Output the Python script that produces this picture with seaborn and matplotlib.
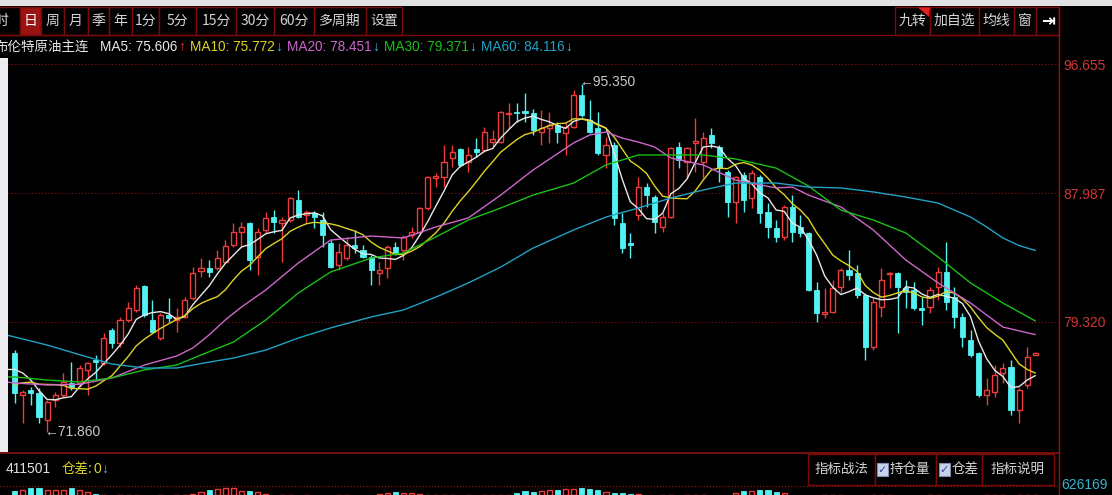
import numpy as np
import pandas as pd
import seaborn as sns
import matplotlib.pyplot as plt
from matplotlib import font_manager
from matplotlib.patches import Rectangle, Polygon

# daily candles, brent continuous (oldest first)
opens = [77.21, 74.38, 74.72, 74.52, 72.70, 74.05, 74.38, 75.19, 75.19, 76.07,
         76.74, 76.54, 78.76, 77.89, 79.44, 80.11, 81.73, 79.44, 78.22, 79.77,
         79.44, 79.64, 80.92, 82.74, 82.94, 82.94, 83.34, 84.49, 85.36, 85.97,
         83.68, 85.50, 86.37, 85.97, 86.17, 87.52, 86.51, 86.64, 86.17, 84.62,
         83.14, 83.61, 84.49, 84.15, 83.68, 82.60, 82.94, 84.35, 84.15, 85.16,
         85.36, 86.98, 89.00, 89.07, 90.35, 90.95, 90.08, 90.95, 90.89, 91.42,
         91.42, 93.31, 93.45, 93.51, 93.38, 92.10, 92.37, 92.57, 92.03, 92.44,
         94.59, 92.91, 92.37, 90.55, 91.22, 85.97, 84.62, 86.51, 88.39, 87.72,
         85.70, 86.37, 91.09, 90.08, 91.36, 90.08, 91.90, 91.09, 89.40, 87.38,
         89.20, 87.65, 89.07, 86.71, 85.63, 85.03, 87.05, 85.70, 85.30, 81.46,
         79.84, 79.97, 81.66, 82.80, 82.60, 81.12, 77.62, 80.31, 82.53, 82.60,
         81.59, 81.46, 80.24, 80.31, 81.66, 82.67, 80.98, 79.64, 78.09, 77.21,
         74.38, 74.58, 75.87, 76.27, 73.37, 75.06, 77.08]
highs = [77.41, 74.72, 74.92, 74.85, 74.05, 74.58, 75.87, 76.60, 76.40, 76.60,
         77.08, 78.56, 78.90, 79.64, 80.65, 81.79, 81.79, 80.78, 79.91, 80.92,
         80.24, 80.98, 83.00, 83.61, 83.48, 84.15, 84.82, 85.97, 86.04, 86.04,
         85.63, 86.71, 86.84, 86.37, 87.72, 88.19, 86.84, 86.78, 86.71, 84.82,
         84.62, 85.03, 85.50, 84.49, 83.81, 83.34, 84.49, 84.69, 85.16, 85.70,
         87.05, 89.13, 89.34, 91.22, 91.22, 91.02, 91.09, 91.69, 92.44, 92.23,
         93.52, 94.05, 94.05, 94.73, 93.65, 93.58, 93.45, 92.77, 92.70, 94.93,
         95.35, 94.25, 93.45, 91.76, 91.42, 86.64, 85.30, 89.07, 88.66, 87.85,
         86.64, 91.09, 91.42, 91.09, 93.04, 92.10, 92.37, 91.22, 89.54, 89.13,
         89.40, 89.54, 89.20, 87.31, 86.17, 87.18, 87.85, 86.51, 85.36, 81.99,
         81.59, 82.13, 82.94, 84.15, 83.14, 81.25, 80.92, 82.94, 82.67, 82.67,
         82.13, 81.99, 80.98, 81.66, 83.00, 84.69, 81.66, 79.91, 78.76, 77.28,
         75.53, 76.40, 76.54, 76.74, 74.85, 77.62, 77.28]
lows = [73.84, 72.50, 73.71, 72.50, 71.86, 73.57, 74.25, 74.72, 74.92, 74.38,
        75.39, 76.40, 77.55, 77.62, 79.30, 79.97, 79.64, 78.56, 78.09, 79.30,
        78.63, 79.57, 80.78, 82.33, 82.33, 82.80, 83.27, 84.35, 84.35, 82.80,
        82.47, 85.30, 85.30, 83.34, 86.04, 86.31, 85.97, 85.63, 84.35, 82.94,
        82.80, 83.48, 83.95, 83.61, 81.79, 81.79, 82.26, 83.81, 83.48, 84.96,
        85.30, 86.84, 88.39, 88.39, 89.74, 89.74, 89.40, 90.42, 90.75, 91.09,
        91.36, 92.37, 92.77, 92.77, 91.90, 91.22, 91.36, 91.36, 90.55, 92.37,
        93.11, 92.03, 90.55, 89.67, 85.83, 83.95, 83.61, 86.17, 87.05, 85.30,
        85.36, 86.31, 89.67, 89.00, 89.40, 89.00, 91.02, 88.73, 86.37, 85.97,
        86.71, 86.98, 85.97, 84.96, 84.69, 84.82, 84.69, 85.03, 81.40, 79.30,
        79.57, 79.91, 81.25, 82.13, 80.92, 76.74, 77.41, 79.64, 81.59, 78.56,
        80.24, 80.11, 79.10, 79.91, 80.78, 80.11, 78.90, 77.62, 76.94, 74.25,
        73.71, 74.25, 75.19, 73.04, 72.50, 74.85, 77.08]
closes = [74.52, 74.58, 74.52, 72.90, 73.91, 74.38, 75.26, 74.92, 76.20, 76.54,
          76.60, 78.22, 77.89, 79.44, 80.24, 81.59, 79.77, 78.63, 79.77, 79.57,
          79.64, 80.78, 82.60, 82.94, 82.67, 83.61, 84.42, 85.36, 85.70, 83.48,
          85.36, 86.31, 86.04, 86.17, 87.65, 86.37, 86.71, 86.37, 85.16, 83.00,
          84.02, 84.49, 84.28, 83.68, 82.80, 82.80, 84.35, 83.95, 85.03, 85.36,
          86.98, 89.07, 89.13, 90.08, 90.75, 89.88, 90.55, 90.75, 92.10, 91.63,
          93.45, 93.38, 93.38, 93.38, 92.23, 92.37, 92.57, 92.10, 92.44, 94.59,
          93.24, 92.10, 90.68, 91.22, 86.31, 84.28, 84.49, 88.39, 87.85, 86.04,
          86.37, 91.02, 90.21, 91.02, 91.49, 91.69, 91.36, 89.67, 87.38, 89.07,
          87.52, 89.34, 86.64, 85.70, 85.03, 87.05, 85.36, 85.30, 81.46, 79.91,
          79.97, 81.59, 82.80, 82.47, 81.12, 77.62, 80.65, 82.13, 82.60, 81.66,
          81.32, 80.24, 80.11, 81.46, 82.67, 80.65, 79.64, 78.29, 77.08, 74.38,
          74.72, 75.73, 76.20, 73.37, 74.72, 76.94, 77.21]

# closes just before the first visible day (seed for MA5 / MA10)
prior_closes = [73.6, 74.0, 74.3, 74.1, 74.5, 75.8, 76.9, 76.4, 76.9]

# slower averages
ma20_day = [-1, 0, 4, 8, 12, 16, 20, 22, 24, 26, 28, 31, 35, 39, 44, 48, 52, 56, 60,
            64, 69, 71, 73, 75, 77, 79, 81, 85, 89, 94, 96, 98, 102, 106, 110, 114,
            118, 122, 126]
ma20_val = [75.26, 75.19, 75.06, 75.10, 75.53, 76.40, 77.01, 77.55, 78.43, 79.44,
            80.31, 81.46, 83.27, 84.82, 85.09, 84.96, 85.70, 86.31, 87.85, 89.54,
            91.36, 91.90, 92.10, 91.69, 91.42, 91.09, 90.35, 89.88, 88.86, 88.33,
            88.39, 87.85, 87.05, 85.50, 83.48, 81.93, 80.58, 78.96, 78.45]
ma30_day = [-1, 0, 4, 8, 12, 16, 20, 23, 27, 31, 35, 39, 44, 48, 52, 56, 60, 64, 69,
            73, 77, 81, 85, 89, 94, 98, 102, 106, 110, 114, 118, 122, 126]
ma30_val = [75.60, 75.60, 75.39, 75.26, 75.53, 76.07, 76.40, 77.08, 77.95, 79.44,
            81.25, 82.67, 83.61, 83.95, 85.03, 86.17, 86.98, 87.85, 88.66, 89.88,
            90.55, 90.55, 90.55, 90.28, 89.67, 88.46, 86.84, 86.17, 85.30, 83.68,
            81.93, 80.58, 79.37]
ma60_day = [-1, 0, 4, 8, 12, 16, 20, 24, 27, 31, 35, 39, 44, 48, 52, 56, 60, 64, 69,
            73, 77, 81, 85, 89, 94, 98, 102, 106, 110, 114, 118, 120, 122, 124, 126]
ma60_val = [78.42, 78.29, 77.75, 77.10, 76.47, 76.20, 76.20, 76.60, 76.87, 77.41,
            78.22, 78.90, 79.64, 80.11, 80.98, 81.93, 83.00, 84.28, 85.50, 86.37,
            86.98, 87.65, 88.19, 88.66, 88.66, 88.39, 88.33, 88.06, 87.72, 87.31,
            86.37, 85.70, 84.96, 84.45, 84.12]

# open interest panel, only the tops of the bars show at the bottom edge
oi_shown = ([4, 5, 7, 7, 5, 5, 5, 7, 5, 3, 1.5] + [0] * 11
            + [1, 3, 5, 6, 7, 7, 4, 4, 3, 1] + [0] * 13
            + [1, 2, 3, 2, 2, 1] + [0] * 11
            + [2, 4, 3, 4, 5, 5, 6, 6, 7, 6, 5, 3, 2, 2, 1.5, 1] + [0] * 11
            + [2, 4, 4, 5, 5, 3, 2] + [0] * 31)

price_ticks = [96.655, 87.987, 79.320]
ma_names = ["MA5", "MA10", "MA20", "MA30", "MA60"]
ma_last = [75.606, 75.772, 78.451, 79.371, 84.116]
ma_arrows = ["↑", "↓", "↓", "↓", "↓"]
low_mark = (4, 71.860)
high_mark = (70, 95.350)
title = "布伦特原油主连"
periods = ["时", "日", "周", "月", "季", "年", "1分", "5分", "15分", "30分", "60分", "多周期", "设置"]
tools = ["九转", "加自选", "均线", "窗", "⇥"]
panel_btns = ["指标战法", "持仓量", "仓差", "指标说明"]
oi_last = "411501"
oi_diff = "0"
oi_axis = "626169"

# ---- look ----
sns.set_theme(style="dark", rc={"axes.facecolor": "black", "figure.facecolor": "black"})
avail = {f.name for f in font_manager.fontManager.ttflist}
LATIN = "Liberation Sans Narrow" if "Liberation Sans Narrow" in avail else "Liberation Sans"
NUM_SIZE = 12.0 if LATIN.endswith("Narrow") else 10.0
LEG_SIZE = 12.0 if LATIN.endswith("Narrow") else 9.8
NUMF = [LATIN, "DejaVu Sans"]
CJK = ["Noto Sans CJK SC", "DejaVu Sans"]
plt.rcParams["font.family"] = [LATIN, "Noto Sans CJK SC", "DejaVu Sans"]

RED = "#EE3B3B"
CYAN = "#52F2F2"
DARKRED = "#8A1212"
ma_colors = ["#E8E8E8", "#DDD425", "#CC66CC", "#18C018", "#1FA2C4"]

W, H = 1112, 495
L, R, TOP, BOT = 8, 1059, 35, 452
P0, PX = 100.99, 0.06736          # price at pixel row 0, price per pixel
X0, DX = 14.7, 8.1                # pixel column of day 0, pixels per day


def price(y):
    return P0 - PX * y


def day(x):
    return (x - X0) / DX


fig = plt.figure(figsize=(W / 100, H / 100), dpi=100, facecolor="black")
ax = fig.add_axes([L / W, 1 - BOT / H, (R - L) / W, (BOT - TOP) / H])
ax.set_facecolor("black")

df = pd.DataFrame({"open": opens, "high": highs, "low": lows, "close": closes})
df["day"] = np.arange(len(df))
up = (df["close"] >= df["open"]).to_numpy()
body_lo = df[["open", "close"]].min(axis=1).to_numpy()
body_h = np.maximum((df["close"] - df["open"]).abs().to_numpy(), 0.07)
x = df["day"].to_numpy()

# grid
for v in price_ticks:
    ax.axhline(v, color=DARKRED, lw=0.8, ls=(0, (1, 2)), zorder=1)

# wicks and bodies
ax.vlines(x, df["low"], df["high"], colors=np.where(up, RED, CYAN), lw=1, zorder=2)
ax.bar(x[up], body_h[up], bottom=body_lo[up], width=0.64, facecolor="black",
       edgecolor=RED, linewidth=1, zorder=3)
ax.bar(x[~up], body_h[~up], bottom=body_lo[~up], width=0.64, facecolor=CYAN,
       edgecolor=CYAN, linewidth=0.6, zorder=3)

# moving averages
allc = pd.Series(prior_closes + closes)
n0 = len(prior_closes)
ma5 = allc.rolling(5).mean().iloc[n0 - 1:].to_numpy()
ma10 = allc.rolling(10).mean().iloc[n0:].to_numpy()
lines = [
    (np.arange(-1, len(closes)), ma5),
    (np.arange(0, len(closes)), ma10),
    (np.array(ma20_day), np.array(ma20_val)),
    (np.array(ma30_day), np.array(ma30_val)),
    (np.array(ma60_day), np.array(ma60_val)),
]
for (lx, ly), c in zip(lines, ma_colors):
    sns.lineplot(x=lx, y=ly, color=c, lw=1.0, ax=ax, legend=False, zorder=4)

ax.set_xlim(day(L), day(R))
ax.set_ylim(price(BOT), price(TOP))
ax.set(xlabel="", ylabel="")
ax.set_xticks([])
ax.yaxis.tick_right()
ax.set_yticks(price_ticks)
ax.set_yticklabels([f"{v:.3f}" for v in price_ticks])
ax.tick_params(axis="y", length=0, pad=3, labelcolor="#D23636", labelsize=NUM_SIZE)
for t in ax.get_yticklabels():
    t.set_fontfamily(NUMF)
for s in ax.spines.values():
    s.set_visible(False)
ax.grid(False)

# high / low markers
ax.text(low_mark[0] - 0.35, low_mark[1], f"←{low_mark[1]:.3f}", color="#C8C8C8",
        fontsize=NUM_SIZE, family=NUMF, va="center", ha="left", zorder=6)
ax.text(high_mark[0] - 0.35, high_mark[1] + 0.1, f"←{high_mark[1]:.3f}", color="#C8C8C8",
        fontsize=NUM_SIZE, family=NUMF, va="center", ha="left", zorder=6)

# open interest strip (cut by the window edge)
oa = fig.add_axes([L / W, 0, (R - L) / W, 8 / H])
oa.set_xlim(day(L), day(R))
oa.set_ylim(0, 8)
oi = np.array(oi_shown, dtype=float)
oa.bar(x[up], oi[up], width=0.64, facecolor="black", edgecolor=RED, linewidth=1)
oa.bar(x[~up], oi[~up], width=0.64, facecolor=CYAN, edgecolor=CYAN, linewidth=0.6)
oa.axis("off")

# ---- overlay in pixel coordinates: toolbar, legend, panel chrome ----
ov = fig.add_axes([0, 0, 1, 1], zorder=10)
ov.set_xlim(0, W)
ov.set_ylim(H, 0)
ov.axis("off")
ov.patch.set_alpha(0)


def put(xp, yp, s, color, size, family, ha="left", **kw):
    return ov.text(xp, yp, s, color=color, fontsize=size, family=family, ha=ha,
                   va="center", **kw)


def after(prev, s, color, size, family, gap):
    # text placed right behind another text
    return ov.annotate(s, xy=(1, 0.5), xycoords=prev, xytext=(gap, 0),
                       textcoords="offset points", va="center", ha="left",
                       color=color, fontsize=size, family=family)


ov.add_patch(Rectangle((0, 0), W, 6, color="#E2E2E2", lw=0))
ov.add_patch(Rectangle((0, 58), L, BOT - 58, color="#ECECF0", lw=0))

period_edges = [-16, 19.6, 41, 64, 87.5, 109, 132, 159, 196, 236, 274, 314, 366, 402]
for i, lab in enumerate(periods):
    a, b = period_edges[i], period_edges[i + 1]
    sel = lab == "日"
    ov.add_patch(Rectangle((a, 7), b - a, 28, facecolor="#9A1212" if sel else "black",
                           edgecolor="#7A0A0A", lw=1))
    put((a + b) / 2, 21, lab, "white" if sel else "#D5D5D5", 10, CJK, ha="center")

tool_edges = [895, 930, 979, 1014, 1036, 1059]
for i, lab in enumerate(tools):
    a, b = tool_edges[i], tool_edges[i + 1]
    ov.add_patch(Rectangle((a, 7), b - a, 28, facecolor="black", edgecolor="#7A0A0A", lw=1))
    if lab == "⇥":
        put((a + b) / 2, 21, lab, "white", 12, ["DejaVu Sans"], ha="center", weight="bold")
    else:
        put((a + b) / 2, 21, lab, "#D5D5D5", 10, CJK, ha="center")
ov.add_patch(Polygon([(918, 7.5), (930, 7.5), (929, 17)], closed=True, color="#E52020", lw=0))

ov.plot([0, R], [TOP, TOP], color="#7A0A0A", lw=1)
ov.plot([R, R], [7, H], color="#9A1010", lw=1)
ov.plot([0, R], [BOT + 0.5, BOT + 0.5], color=DARKRED, lw=1.2)
ov.plot([0, R], [486, 486], color=DARKRED, lw=0.9, ls=(0, (1, 1.5)))

# legend row
put(-5.5, 47, title, "#E6E6E6", 9.7, CJK)
arrow_colors = ["#FF3030", "#4AAEE0", "#4AAEE0", "#4AAEE0", "#4AAEE0"]
prev = None
for name, val, arr, c, ac in zip(ma_names, ma_last, ma_arrows, ma_colors, arrow_colors):
    label = f"{name}: {val:.3f}"
    if prev is None:
        t = put(100, 47, label, c, LEG_SIZE, NUMF)
    else:
        t = after(prev, label, c, LEG_SIZE, NUMF, 3.5)
    prev = after(t, arr, ac, LEG_SIZE, NUMF, 0.5)

# lower panel row
put(6, 469, oi_last, "#E0E0E0", NUM_SIZE, NUMF)
put(62, 469, "仓差:", "#DDD425", 9.7, CJK)
put(94, 469, oi_diff, "#DDD425", NUM_SIZE, NUMF)
put(101, 469, "↓", "#4AAEE0", NUM_SIZE, NUMF)

panel_edges = [808, 875, 936, 982, 1054]
for i in range(4):
    a, b = panel_edges[i], panel_edges[i + 1]
    ov.add_patch(Rectangle((a, 454), b - a, 31, facecolor="black", edgecolor="#7A0A0A", lw=1))
put((808 + 875) / 2, 469, panel_btns[0], "#D5D5D5", 9.7, CJK, ha="center")
for cx, lab in [(877, panel_btns[1]), (939, panel_btns[2])]:
    ov.add_patch(Rectangle((cx, 463), 11, 13, facecolor="#C9D3EA", edgecolor="#8090B0", lw=0.8))
    put(cx + 5.5, 469.5, "✓", "#2A4A9A", 8, ["DejaVu Sans"], ha="center", weight="bold")
    put(cx + 13, 469, lab, "#D5D5D5", 9.7, CJK)
put((982 + 1054) / 2, 469, panel_btns[3], "#D5D5D5", 9.7, CJK, ha="center")

put(1061, 485, oi_axis, "#34B4CC", NUM_SIZE, NUMF)

fig.savefig("out.png", dpi=100, facecolor="black")
